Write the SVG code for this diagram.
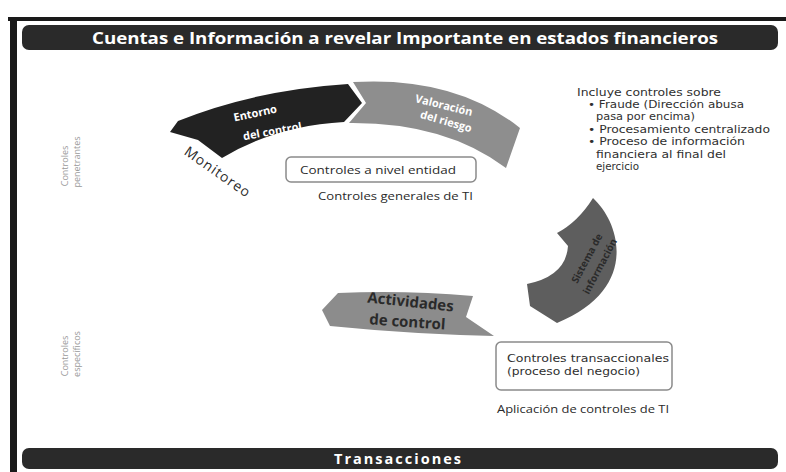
<svg xmlns="http://www.w3.org/2000/svg" width="786" height="472" viewBox="0 0 786 472">
<style>
.banner{fill:#2a2a2a}
.btxt{font-family:"Open Sans","Liberation Sans",sans-serif;font-weight:bold;fill:#fff}
.wtxt{font-family:"Open Sans","Liberation Sans",sans-serif;font-weight:bold;fill:#fff;font-size:11px}
.dtxt{font-family:"Open Sans","Liberation Sans",sans-serif;fill:#2a2a2a}
.box{fill:#fff;stroke:#8a8a8a;stroke-width:1.5}
.note{font-family:"DejaVu Sans","Liberation Sans",sans-serif;font-size:10px;fill:#2f2f2f}
.side{font-family:"Open Sans","Liberation Sans",sans-serif;font-size:9px;fill:#9a9a9a}
</style>
<rect width="786" height="472" fill="#fff"/>
<g id="frame">
<rect x="8" y="17" width="778" height="4" fill="#1a1a1a"/>
<rect x="10" y="17" width="7" height="455" fill="#1a1a1a"/>
</g>
<g id="banner-top">
<rect class="banner" x="22" y="25" width="756" height="25" rx="7"/>
<text class="btxt" x="92" y="44" font-size="16.5" textLength="626" lengthAdjust="spacingAndGlyphs">Cuentas e Información a revelar Importante en estados financieros</text>
</g>
<g id="side-labels">
<text class="side" transform="translate(68,166) rotate(-90)" text-anchor="middle">Controles</text>
<text class="side" transform="translate(80,162) rotate(-90)" text-anchor="middle">penetrantes</text>
<text class="side" transform="translate(68,356) rotate(-90)" text-anchor="middle">Controles</text>
<text class="side" transform="translate(80,354) rotate(-90)" text-anchor="middle">específicos</text>
</g>
<g id="node-entorno">
<path d="M178,121 Q255,90 348,84 L362,103 L344,122 Q275,126 222,158 L198,140 L170,132 Z" fill="#222"/>
<text class="wtxt" transform="translate(256,117) rotate(-12)" text-anchor="middle">Entorno</text>
<text class="wtxt" transform="translate(273,135) rotate(-10)" text-anchor="middle">del control</text>
</g>
<g id="node-valoracion">
<path d="M353,82 Q455,76 520,128 L506,168 Q445,122 349,123 L366,103 Z" fill="#8e8e8e"/>
<text class="wtxt" transform="translate(443,109) rotate(14)" text-anchor="middle">Valoración</text>
<text class="wtxt" transform="translate(445,125) rotate(16)" text-anchor="middle">del riesgo</text>
</g>
<g id="node-informacion">
<path d="M593,198 C622,225 638,290 557,323 L530,306 L527,284 Q566,276 568,246 L557,233 Q578,222 593,198 Z" fill="#5e5e5e"/>
<text class="dtxt" font-size="10" font-weight="bold" fill="#2e2e2e" transform="translate(590,260) rotate(-62)" text-anchor="middle">Sistema de</text>
<text class="dtxt" font-size="10" font-weight="bold" fill="#2e2e2e" transform="translate(603,268) rotate(-62)" text-anchor="middle">información</text>
</g>
<g id="node-actividades">
<path d="M338,293 Q405,290 473,296 L466,317 L494,336 Q410,334 330,326 L322,310 Z" fill="#8c8c8c"/>
<text class="dtxt" font-size="15" font-weight="bold" fill="#262626" transform="translate(410,307) rotate(6)" text-anchor="middle">Actividades</text>
<text class="dtxt" font-size="15" font-weight="bold" fill="#262626" transform="translate(407,327) rotate(4)" text-anchor="middle">de control</text>
</g>
<g id="node-monitoreo">
<text class="dtxt" font-size="14" letter-spacing="1" transform="translate(215,176) rotate(35)" text-anchor="middle">Monitoreo</text>
</g>
<g id="box-entidad">
<rect class="box" x="286" y="157" width="190" height="25" rx="5"/>
<text class="dtxt" font-size="11" fill="#666" x="300" y="174" textLength="156" lengthAdjust="spacingAndGlyphs">Controles a nivel entidad</text>
<text class="dtxt" font-size="11" x="318" y="200" textLength="155" lengthAdjust="spacingAndGlyphs">Controles generales de TI</text>
</g>
<g id="box-transaccionales">
<rect class="box" x="496" y="342" width="176" height="48" rx="5"/>
<text class="note" font-size="10.5" fill="#444" x="507" y="362" textLength="162" lengthAdjust="spacingAndGlyphs">Controles transaccionales</text>
<text class="note" font-size="10.5" fill="#444" x="507" y="375" textLength="133" lengthAdjust="spacingAndGlyphs">(proceso del negocio)</text>
<text class="dtxt" font-size="11" x="497" y="413" textLength="172" lengthAdjust="spacingAndGlyphs">Aplicación de controles de TI</text>
</g>
<g id="notes">
<text class="note" x="577" y="96" textLength="144" lengthAdjust="spacingAndGlyphs">Incluye controles sobre</text>
<text class="note" x="588" y="108" textLength="156" lengthAdjust="spacingAndGlyphs">• Fraude (Dirección abusa</text>
<text class="note" x="596" y="120" textLength="99" lengthAdjust="spacingAndGlyphs">pasa por encima)</text>
<text class="note" x="588" y="133" textLength="182" lengthAdjust="spacingAndGlyphs">• Procesamiento centralizado</text>
<text class="note" x="588" y="145" textLength="157" lengthAdjust="spacingAndGlyphs">• Proceso de información</text>
<text class="note" x="596" y="158" font-size="9" fill="#777" textLength="130" lengthAdjust="spacingAndGlyphs">financiera al final del</text>
<text class="note" x="596" y="170" textLength="43" lengthAdjust="spacingAndGlyphs">ejercicio</text>
</g>
<g id="connectors"></g>
<g id="banner-bottom">
<rect class="banner" x="22" y="448" width="756" height="21" rx="7"/>
<text class="btxt" x="334" y="464" font-size="14.5" textLength="127" lengthAdjust="spacing">Transacciones</text>
</g>
</svg>
